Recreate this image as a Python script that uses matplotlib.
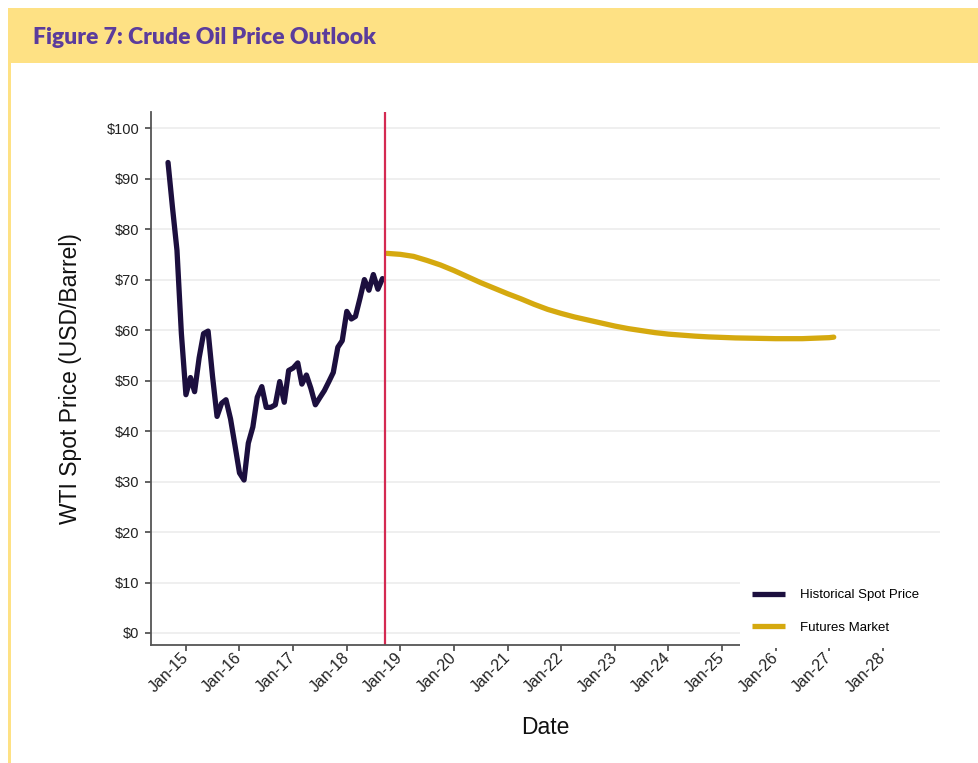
import pandas as pd
import numpy as np
import matplotlib
matplotlib.use("Agg")
from matplotlib import pyplot as plt
import matplotlib.dates as mdates
from matplotlib.patches import Rectangle

# monthly WTI spot, Sep-2014 .. Sep-2018
hist_start = "2014-09-01"
hist_price = [93.2, 84.4, 75.8, 59.3, 47.2, 50.6, 47.8, 54.5, 59.3, 59.8,
              50.9, 42.9, 45.5, 46.2, 42.4, 37.2, 31.7, 30.3, 37.6, 40.8,
              46.7, 48.8, 44.7, 44.7, 45.2, 49.8, 45.7, 52.0, 52.5, 53.5,
              49.3, 51.1, 48.5, 45.2, 46.6, 48.0, 49.8, 51.6, 56.6, 57.9,
              63.7, 62.2, 62.7, 66.3, 70.0, 67.9, 71.0, 68.1, 70.2]

# futures curve, quarterly from Oct-2018, last point Feb-2027
fut_start = "2018-10-01"
fut_price = [75.2, 75.0, 74.6, 73.8, 72.9, 71.8, 70.6, 69.4, 68.3, 67.2,
             66.2, 65.1, 64.1, 63.3, 62.6, 62.0, 61.4, 60.8, 60.3, 59.9,
             59.5, 59.2, 59.0, 58.8, 58.65, 58.55, 58.45, 58.4, 58.35, 58.3,
             58.3, 58.3, 58.4, 58.5]
fut_last = ("2027-02-01", 58.6)

today = "2018-09-17"

hist_dates = pd.date_range(hist_start, periods=len(hist_price), freq="MS")
fut_dates = list(pd.date_range(fut_start, periods=len(fut_price), freq="QS-OCT"))
fut_dates.append(pd.Timestamp(fut_last[0]))
fut_vals = fut_price + [fut_last[1]]

plt.rcParams["font.family"] = ["Liberation Sans", "DejaVu Sans"]

W, H = 979, 763
fig = plt.figure(figsize=(W / 100, H / 100), dpi=100)
fig.patch.set_facecolor("white")

# header band and left border
fig.add_artist(Rectangle((8 / W, 1 - 63 / H), 1, 55 / H, transform=fig.transFigure,
                         facecolor="#FEE184", edgecolor="none"))
fig.add_artist(Rectangle((8 / W, 0), 2.5 / W, 1 - 63 / H, transform=fig.transFigure,
                         facecolor="#FEE184", edgecolor="none"))
fig.text(33 / W, 1 - 38 / H, "Figure 7: Crude Oil Price Outlook", fontsize=16.5,
         fontweight="heavy", color="#5B3C9C", va="center", ha="left",
         family=["Lato", "DejaVu Sans"])

ax = fig.add_axes([151 / W, 118 / H, (940 - 151) / W, (645 - 112) / H])

ax.plot(hist_dates, hist_price, color="#1C0F3E", lw=3.8, solid_joinstyle="round",
        solid_capstyle="round", label="Historical Spot Price", zorder=2)
ax.plot(fut_dates, fut_vals, color="#D5A90F", lw=3.8, solid_joinstyle="round",
        solid_capstyle="round", label="Futures Market", zorder=2)
ax.axvline(pd.Timestamp(today), color="#D42A52", lw=1.6, zorder=2.2)

ax.set_xlim(pd.Timestamp("2014-05-08"), pd.Timestamp("2029-01-25"))
ax.set_ylim(-2.38, 103.2)
ax.set_yticks(range(0, 101, 10))
ax.set_yticklabels(["${}".format(v) for v in range(0, 101, 10)])
ax.yaxis.grid(True, color="#EEEEEE", lw=1.3)
ax.set_axisbelow(True)

ax.xaxis.set_major_formatter(mdates.DateFormatter("Jan-%y"))
ax.set_xticks([pd.Timestamp("{}-01-01".format(y)) for y in range(2015, 2029)])

for s in ["top", "right"]:
    ax.spines[s].set_visible(False)
for s in ["left", "bottom"]:
    ax.spines[s].set_color("#555555")
    ax.spines[s].set_linewidth(1.3)

ax.tick_params(axis="both", colors="#555555", width=1.3, length=4.5, labelcolor="#222222")
ax.tick_params(axis="y", labelsize=10.5, pad=4)
ax.tick_params(axis="x", labelsize=11.5, pad=3)
for lab in ax.get_xticklabels():
    lab.set_rotation(45)
    lab.set_ha("right")
    lab.set_va("center")
    lab.set_rotation_mode("anchor")

ax.set_ylabel("WTI Spot Price (USD/Barrel)", fontsize=16.5, color="#111111")
ax.yaxis.set_label_coords(-0.087, 0.5)
ax.set_xlabel("Date", fontsize=16.5, color="#111111")
ax.xaxis.set_label_coords(0.5, -0.134)

# white box behind legend, covering the axis line
ax.add_patch(Rectangle((0.7465, -0.006), 0.27, 0.15, transform=ax.transAxes,
                       facecolor="white", edgecolor="none", zorder=3, clip_on=False))
leg = ax.legend(loc="center left", bbox_to_anchor=(0.762, 0.063), frameon=False,
                fontsize=9.5, handlelength=2.5, handletextpad=1.1, labelspacing=1.55,
                borderpad=0, borderaxespad=0)
leg.set_zorder(4)
for h in leg.get_lines():
    h.set_linewidth(3.8)
    h.set_solid_capstyle("butt")

fig.savefig("out.png", dpi=100)
